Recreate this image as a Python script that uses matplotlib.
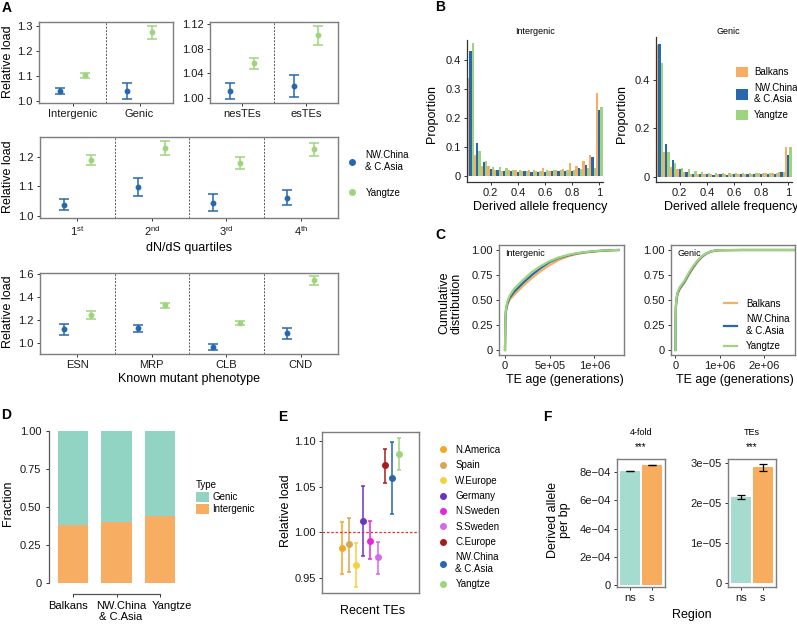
import matplotlib
matplotlib.use("Agg")
import matplotlib.pyplot as plt
from matplotlib.lines import Line2D
import numpy as np

W, H = 797, 625

plt.rcParams.update({
    "font.family": "Liberation Sans",
    "font.size": 8,
    "mathtext.fontset": "custom",
    "mathtext.rm": "Liberation Sans",
    "mathtext.default": "regular",
    "axes.linewidth": 0.9,
    "xtick.major.size": 2.5,
    "ytick.major.size": 2.5,
    "xtick.major.width": 0.7,
    "ytick.major.width": 0.7,
    "xtick.major.pad": 2,
    "ytick.major.pad": 2,
    "xtick.color": "#333333",
    "ytick.color": "#333333",
    "xtick.labelcolor": "#1a1a1a",
    "ytick.labelcolor": "#1a1a1a",
    "xtick.labelsize": 8,
    "ytick.labelsize": 8,
})

BLUE = "#2767ad"
GREEN = "#9fd47f"
ORANGE = "#f7ad62"
TEAL = "#92d4c4"
GRAY = "#7d7d7d"

# ---------------- data ----------------
# A: relative load (mean, lower, upper) for NW.China & C.Asia and Yangtze
a1_cats = ["Intergenic", "Genic"]
a1_nw = [1.041, 1.040]
a1_nw_lo = [1.027, 1.007]
a1_nw_hi = [1.053, 1.071]
a1_yz = [1.104, 1.275]
a1_yz_lo = [1.094, 1.247]
a1_yz_hi = [1.113, 1.301]

a2_cats = ["nesTEs", "esTEs"]
a2_nw = [1.012, 1.019]
a2_nw_lo = [0.998, 1.002]
a2_nw_hi = [1.025, 1.037]
a2_yz = [1.056, 1.102]
a2_yz_lo = [1.047, 1.086]
a2_yz_hi = [1.064, 1.117]

a3_cats = ["1$^{st}$", "2$^{nd}$", "3$^{rd}$", "4$^{th}$"]
a3_nw = [1.038, 1.097, 1.045, 1.062]
a3_nw_lo = [1.020, 1.067, 1.017, 1.036]
a3_nw_hi = [1.057, 1.130, 1.074, 1.087]
a3_yz = [1.189, 1.232, 1.180, 1.226]
a3_yz_lo = [1.172, 1.207, 1.159, 1.204]
a3_yz_hi = [1.206, 1.253, 1.199, 1.246]

a4_cats = ["ESN", "MRP", "CLB", "CND"]
a4_nw = [1.119, 1.128, 0.963, 1.084]
a4_nw_lo = [1.072, 1.096, 0.937, 1.032]
a4_nw_hi = [1.163, 1.160, 0.989, 1.128]
a4_yz = [1.244, 1.328, 1.171, 1.545]
a4_yz_lo = [1.209, 1.302, 1.154, 1.507]
a4_yz_hi = [1.281, 1.348, 1.189, 1.580]

# B: derived allele frequency spectra (proportion per 0.05 bin)
b_freq = [0.05, 0.10, 0.15, 0.20, 0.25, 0.30, 0.35, 0.40, 0.45, 0.50,
          0.55, 0.60, 0.65, 0.70, 0.75, 0.80, 0.85, 0.90, 0.95, 1.00]
b_int_balkans = [0.337, 0.072, 0.034, 0.032, 0.018, 0.015, 0.018, 0.020, 0.016, 0.018,
                 0.016, 0.025, 0.017, 0.018, 0.022, 0.044, 0.035, 0.050, 0.070, 0.285]
b_int_nw = [0.431, 0.113, 0.048, 0.022, 0.020, 0.015, 0.016, 0.013, 0.015, 0.014,
            0.012, 0.014, 0.015, 0.016, 0.016, 0.017, 0.025, 0.038, 0.065, 0.227]
b_int_yz = [0.458, 0.084, 0.050, 0.031, 0.030, 0.025, 0.020, 0.020, 0.017, 0.018,
            0.016, 0.018, 0.019, 0.018, 0.018, 0.020, 0.022, 0.025, 0.025, 0.236]
b_gen_balkans = [0.541, 0.100, 0.041, 0.032, 0.018, 0.012, 0.010, 0.012, 0.010, 0.010,
                 0.011, 0.010, 0.011, 0.010, 0.012, 0.013, 0.013, 0.015, 0.020, 0.122]
b_gen_nw = [0.547, 0.133, 0.068, 0.030, 0.020, 0.010, 0.012, 0.010, 0.008, 0.009,
            0.008, 0.009, 0.009, 0.010, 0.010, 0.010, 0.011, 0.012, 0.020, 0.090]
b_gen_yz = [0.470, 0.103, 0.055, 0.035, 0.033, 0.022, 0.018, 0.015, 0.015, 0.014,
            0.015, 0.014, 0.013, 0.013, 0.014, 0.015, 0.016, 0.017, 0.020, 0.122]

# C: cumulative distribution of TE age
c_int_age = [0, 5e3, 1e4, 2.5e4, 5e4, 1e5, 2e5, 3e5, 4e5, 5e5, 6e5, 7e5, 8e5, 9e5,
             1e6, 1.1e6, 1.2e6, 1.27e6]
c_int_balkans = [0, 0.30, 0.38, 0.45, 0.50, 0.55, 0.64, 0.72, 0.79, 0.85, 0.90, 0.935,
                 0.960, 0.975, 0.985, 0.993, 0.998, 1.0]
c_int_nw = [0, 0.31, 0.39, 0.46, 0.52, 0.58, 0.67, 0.75, 0.82, 0.88, 0.92, 0.945,
            0.965, 0.978, 0.987, 0.994, 0.998, 1.0]
c_int_yz = [0, 0.32, 0.41, 0.48, 0.54, 0.61, 0.70, 0.78, 0.84, 0.89, 0.925, 0.950,
            0.968, 0.980, 0.988, 0.995, 0.998, 1.0]
c_gen_age = [0, 5e3, 1e4, 2.5e4, 5e4, 1e5, 2e5, 3e5, 4e5, 5e5, 6e5, 7e5, 8e5, 9e5,
             1e6, 1.5e6, 2e6, 2.7e6]
c_gen_balkans = [0, 0.33, 0.42, 0.50, 0.56, 0.61, 0.67, 0.75, 0.82, 0.88, 0.93, 0.962,
                 0.983, 0.993, 0.998, 1.0, 1.0, 1.0]
c_gen_nw = [0, 0.34, 0.43, 0.51, 0.57, 0.62, 0.68, 0.76, 0.83, 0.89, 0.935, 0.966,
            0.985, 0.994, 0.998, 1.0, 1.0, 1.0]
c_gen_yz = [0, 0.35, 0.44, 0.52, 0.58, 0.63, 0.69, 0.77, 0.84, 0.895, 0.94, 0.968,
            0.986, 0.995, 0.998, 1.0, 1.0, 1.0]

# D: fraction of TEs by type
d_pops = ["Balkans", "NW.China\n& C.Asia", "Yangtze"]
d_intergenic = [0.380, 0.403, 0.440]
d_genic = [0.620, 0.597, 0.560]

# E: relative load of recent TEs
e_pops = ["N.America", "Spain", "W.Europe", "Germany", "N.Sweden", "S.Sweden",
          "C.Europe", "NW.China\n& C.Asia", "Yangtze"]
e_load = [0.983, 0.987, 0.965, 1.013, 0.991, 0.973, 1.073, 1.059, 1.085]
e_lo = [0.955, 0.957, 0.941, 0.974, 0.971, 0.955, 1.054, 1.020, 1.068]
e_hi = [1.011, 1.016, 0.989, 1.051, 1.013, 0.990, 1.091, 1.099, 1.103]
e_colors = ["#f5a623", "#d9a654", "#f3d23c", "#6a34c2", "#e625e0", "#d46ae8",
            "#a81c1c", BLUE, GREEN]

# F: derived alleles per bp
f_groups = ["ns", "s"]
f_4fold = [8.10e-4, 8.53e-4]
f_4fold_err = [0.006e-4, 0.005e-4]
f_tes = [2.15e-5, 2.89e-5]
f_tes_err = [0.045e-5, 0.085e-5]

# ---------------- figure ----------------
fig = plt.figure(figsize=(W / 100, H / 100), dpi=100)


def px_axes(l, t, r, b):
    return fig.add_axes([l / W, 1 - b / H, (r - l) / W, (b - t) / H])


def fig_text(x, y, s, **kw):
    kw.setdefault("ha", "center")
    kw.setdefault("va", "center")
    return fig.text(x / W, 1 - y / H, s, **kw)


def gray_box(ax):
    for s in ax.spines.values():
        s.set_color(GRAY)
        s.set_linewidth(1.0)


def load_panel(ax, cats, nw, nw_lo, nw_hi, yz, yz_lo, yz_hi):
    x = np.arange(len(cats))
    for off, m, lo, hi, c in [(-0.18, nw, nw_lo, nw_hi, BLUE),
                              (0.18, yz, yz_lo, yz_hi, GREEN)]:
        m, lo, hi = np.asarray(m), np.asarray(lo), np.asarray(hi)
        ax.errorbar(x + off, m, yerr=[m - lo, hi - m], fmt="o", color=c, ms=3.2,
                    elinewidth=1.1, capsize=3.6, capthick=1.1)
    for xv in x[:-1] + 0.5:
        ax.axvline(xv, color="#555555", ls=(0, (2, 1.5)), lw=0.7)
    ax.set_xlim(-0.5, len(cats) - 0.5)
    ax.set_xticks(x)
    ax.set_xticklabels(cats)
    gray_box(ax)


# ---- A ----
ax = px_axes(39, 22, 173, 103)
load_panel(ax, a1_cats, a1_nw, a1_nw_lo, a1_nw_hi, a1_yz, a1_yz_lo, a1_yz_hi)
ax.set_ylim(0.992, 1.316)
ax.set_yticks([1.0, 1.1, 1.2, 1.3])
ax.set_yticklabels(["1.0", "1.1", "1.2", "1.3"])

ax = px_axes(210, 22, 338, 103)
load_panel(ax, a2_cats, a2_nw, a2_nw_lo, a2_nw_hi, a2_yz, a2_yz_lo, a2_yz_hi)
ax.set_ylim(0.992, 1.123)
ax.set_yticks([1.00, 1.04, 1.08, 1.12])
ax.set_yticklabels(["1.00", "1.04", "1.08", "1.12"])

ax = px_axes(40, 137, 338, 218)
load_panel(ax, a3_cats, a3_nw, a3_nw_lo, a3_nw_hi, a3_yz, a3_yz_lo, a3_yz_hi)
ax.set_ylim(0.993, 1.268)
ax.set_yticks([1.0, 1.1, 1.2])
ax.set_yticklabels(["1.0", "1.1", "1.2"])

ax = px_axes(40, 273, 338, 354)
load_panel(ax, a4_cats, a4_nw, a4_nw_lo, a4_nw_hi, a4_yz, a4_yz_lo, a4_yz_hi)
ax.set_ylim(0.905, 1.61)
ax.set_yticks([1.0, 1.2, 1.4, 1.6])
ax.set_yticklabels(["1.0", "1.2", "1.4", "1.6"])

for y in (62, 177, 312):
    fig_text(8, y, "Relative load", rotation=90, fontsize=9)
fig_text(189, 248, "dN/dS quartiles", fontsize=9)
fig_text(189, 379, "Known mutant phenotype", fontsize=9)

a_handles = [Line2D([], [], ls="", marker="o", ms=4, color=BLUE),
             Line2D([], [], ls="", marker="o", ms=4, color=GREEN)]
fig.legend(a_handles, ["NW.China\n& C.Asia", "Yangtze"], loc="center left",
           bbox_to_anchor=(342 / W, 1 - 174 / H), frameon=False, fontsize=7,
           handlelength=1.0, handletextpad=0.9, labelspacing=1.6, borderpad=0)

# ---- B ----
w = 0.05 / 3
b_sets = [
    ((467, 40, 603, 182), b_int_balkans, b_int_nw, b_int_yz,
     (-0.022, 0.469), [0, 0.1, 0.2, 0.3, 0.4], ["0", "0.1", "0.2", "0.3", "0.4"]),
    ((656, 37, 792, 182), b_gen_balkans, b_gen_nw, b_gen_yz,
     (-0.022, 0.575), [0, 0.2, 0.4], ["0", "0.2", "0.4"]),
]
for box, bal, nw, yz, ylim, yt, ytl in b_sets:
    ax = px_axes(*box)
    f = np.asarray(b_freq)
    ax.bar(f - w, bal, width=w, color=ORANGE, label="Balkans")
    ax.bar(f, nw, width=w, color=BLUE, label="NW.China\n& C.Asia")
    ax.bar(f + w, yz, width=w, color=GREEN, label="Yangtze")
    ax.set_xlim(0.025, 1.028)
    ax.set_ylim(*ylim)
    ax.set_xticks([0.2, 0.4, 0.6, 0.8, 1.0])
    ax.set_xticklabels(["0.2", "0.4", "0.6", "0.8", "1"])
    ax.set_yticks(yt)
    ax.set_yticklabels(ytl)
    ax.spines[["top", "right"]].set_visible(False)
    for s in ("left", "bottom"):
        ax.spines[s].set_color("#333333")
    b_ax = ax

fig_text(535, 32, "Intergenic", fontsize=6.5)
fig_text(728, 32, "Genic", fontsize=6.5)
fig_text(432, 114, "Proportion", rotation=90, fontsize=9)
fig_text(622, 114, "Proportion", rotation=90, fontsize=9)
fig_text(540, 207, "Derived allele frequency", fontsize=9)
fig_text(731, 207, "Derived allele frequency", fontsize=9)
b_handles, b_labels = b_ax.get_legend_handles_labels()
fig.legend(b_handles, b_labels, loc="upper left", bbox_to_anchor=(731 / W, 1 - 62 / H),
           frameon=False, fontsize=7, handlelength=1.25, handleheight=1.3,
           handletextpad=0.6, labelspacing=0.55, borderpad=0)

# ---- C ----
c_sets = [
    ((499, 245, 624, 355), c_int_age, c_int_balkans, c_int_nw, c_int_yz, "Intergenic",
     (-0.067e6, 1.33e6), [0, 5e5, 1e6], ["0", "5e+05", "1e+06"]),
    ((671, 245, 795, 355), c_gen_age, c_gen_balkans, c_gen_nw, c_gen_yz, "Genic",
     (-0.1e6, 2.7e6), [0, 1e6, 2e6], ["0", "1e+06", "2e+06"]),
]
for box, age, bal, nw, yz, title, xlim, xt, xtl in c_sets:
    ax = px_axes(*box)
    ax.plot(age, bal, color=ORANGE, lw=1.6, label="Balkans")
    ax.plot(age, nw, color=BLUE, lw=1.6, label="NW.China\n& C.Asia")
    ax.plot(age, yz, color=GREEN, lw=1.6, label="Yangtze")
    ax.set_xlim(*xlim)
    ax.set_ylim(-0.05, 1.05)
    ax.set_xticks(xt)
    ax.set_xticklabels(xtl)
    ax.set_yticks([0, 0.25, 0.5, 0.75, 1.0])
    ax.set_yticklabels(["0", "0.25", "0.50", "0.75", "1.00"])
    ax.text(0.05, 0.92, title, transform=ax.transAxes, fontsize=6.5, va="center")
    gray_box(ax)
    c_ax = ax

fig_text(450, 303, "Cumulative\ndistribution", rotation=90, fontsize=9, linespacing=1.0)
fig_text(565, 380, "TE age (generations)", fontsize=9)
fig_text(735, 380, "TE age (generations)", fontsize=9)
c_handles, c_labels = c_ax.get_legend_handles_labels()
fig.legend(c_handles, c_labels, loc="center left", bbox_to_anchor=(719 / W, 1 - 325 / H),
           frameon=False, fontsize=7, handlelength=1.4, handletextpad=0.9,
           labelspacing=0.55, borderpad=0)

# ---- D ----
ax = px_axes(49, 431, 184, 583)
xd = np.arange(len(d_pops))
ax.bar(xd, d_intergenic, width=0.7, color=ORANGE, label="Intergenic")
ax.bar(xd, d_genic, width=0.7, bottom=d_intergenic, color=TEAL, label="Genic")
ax.set_xlim(-0.56, 2.56)
ax.set_ylim(0, 1)
ax.set_xticks(xd)
ax.set_xticklabels([])
ax.set_yticks([0, 0.25, 0.5, 0.75, 1.0])
ax.set_yticklabels(["0", "0.25", "0.50", "0.75", "1.00"])
ax.spines[["top", "right"]].set_visible(False)
ax.spines["bottom"].set_position(("outward", 8))
ax.spines["bottom"].set_bounds(0, 2)
ax.spines["left"].set_bounds(0, 1)
for s in ("left", "bottom"):
    ax.spines[s].set_color("#555555")
ax.tick_params(axis="y", pad=3)
# population names sit spread wider than the bars in the original
for xc, name in zip([68, 121, 172], d_pops):
    fig_text(xc, 601, name, va="top", linespacing=1.1)
fig_text(8, 503, "Fraction", rotation=90, fontsize=9)
d_handles, d_labels = ax.get_legend_handles_labels()
fig.legend(d_handles[::-1], d_labels[::-1], title="Type", loc="upper left",
           bbox_to_anchor=(191 / W, 1 - 475 / H), frameon=False, fontsize=7,
           title_fontsize=7, alignment="left", handlelength=1.3, handleheight=1.2,
           handletextpad=0.4, labelspacing=0.2, borderpad=0)

# ---- E ----
ax = px_axes(322, 432, 419, 593)
xe = np.arange(len(e_pops))
for i in range(len(e_pops)):
    ax.errorbar(xe[i], e_load[i], yerr=[[e_load[i] - e_lo[i]], [e_hi[i] - e_load[i]]],
                fmt="o", color=e_colors[i], ms=4, elinewidth=1.1, capsize=1.5,
                capthick=1.1, label=e_pops[i])
ax.axhline(1.0, color="#e03030", ls=(0, (2, 1.5)), lw=0.9)
ax.set_xlim(-2.8, 10.8)
ax.set_ylim(0.934, 1.1095)
ax.set_xticks([])
ax.set_yticks([0.95, 1.0, 1.05, 1.10])
ax.set_yticklabels(["0.95", "1.00", "1.05", "1.10"])
gray_box(ax)
fig_text(286, 511, "Relative load", rotation=90, fontsize=9)
fig_text(373, 611, "Recent TEs", fontsize=9)
e_handles = [Line2D([], [], ls="", marker="o", ms=4, color=c) for c in e_colors]
fig.legend(e_handles, e_pops, loc="upper left", bbox_to_anchor=(433 / W, 1 - 440 / H),
           frameon=False, fontsize=7, handlelength=1.0, handletextpad=0.8,
           labelspacing=0.55, borderpad=0)

# ---- F ----
f_sets = [
    ((617, 459, 665, 587), f_4fold, f_4fold_err, "4-fold", (-0.17e-4, 8.96e-4),
     [0, 2e-4, 4e-4, 6e-4, 8e-4], ["0", "2e\u221204", "4e\u221204", "6e\u221204", "8e\u221204"]),
    ((728, 459, 776, 587), f_tes, f_tes_err, "TEs", (-0.1e-5, 3.1e-5),
     [0, 1e-5, 2e-5, 3e-5], ["0", "1e\u221205", "2e\u221205", "3e\u221205"]),
]
for box, vals, errs, title, ylim, yt, ytl in f_sets:
    ax = px_axes(*box)
    xf = np.arange(len(f_groups))
    ax.bar(xf, vals, width=0.92, color=["#a6dccf", "#f8ac5e"])
    ax.errorbar(xf, vals, yerr=errs, fmt="none", ecolor="black", elinewidth=0.9,
                capsize=2.8, capthick=0.9)
    ax.set_xlim(-0.6, 1.6)
    ax.set_ylim(*ylim)
    ax.set_xticks(xf)
    ax.set_xticklabels(f_groups)
    ax.set_yticks(yt)
    ax.set_yticklabels(ytl)
    gray_box(ax)
    ax.text(0.5, 1.055, "***", transform=ax.transAxes, ha="center", va="bottom", fontsize=7)
    ax.text(0.5, 1.21, title, transform=ax.transAxes, ha="center", va="center", fontsize=6.5)

fig_text(559, 520, "Derived allele\nper bp", rotation=90, fontsize=9, linespacing=1.0)
fig_text(692, 615, "Region", fontsize=9)

# panel letters
for x, y, s in [(7, 8, "A"), (440, 7, "B"), (440, 235, "C"), (6, 415, "D"),
                (283, 417, "E"), (547, 417, "F")]:
    fig_text(x, y, s, fontsize=10, fontweight="bold")

fig.savefig("out.png", dpi=100)
